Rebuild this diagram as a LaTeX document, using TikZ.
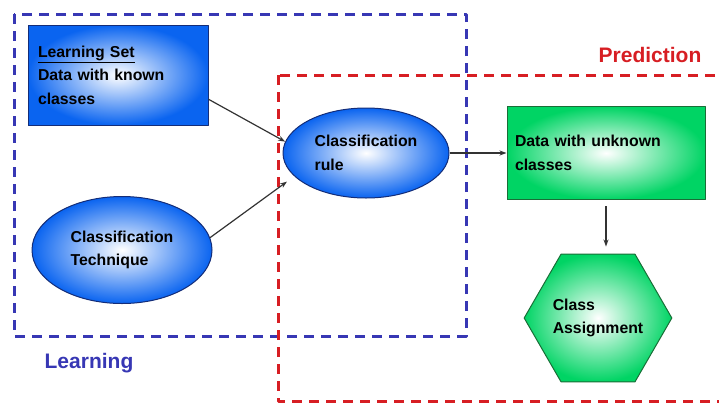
\documentclass[tikz,border=0pt]{standalone}
\usepackage{fontspec}
\setmainfont{Liberation Sans}
\usetikzlibrary{shapes.geometric,arrows.meta}
\definecolor{learnblue}{RGB}{55,55,180}
\definecolor{predred}{RGB}{215,30,35}
\definecolor{fillblue}{RGB}{10,100,240}
\definecolor{edgeblue}{RGB}{20,45,120}
\definecolor{fillgreen}{RGB}{0,212,100}
\definecolor{edgegreen}{RGB}{25,110,55}
\tikzset{
  bluebox/.style={draw=edgeblue, line width=1pt, inner color=white, outer color=fillblue, inner sep=0pt, align=left},
  blueoval/.style={ellipse, draw=edgeblue, line width=1pt, inner color=white, outer color=fillblue, inner sep=0pt, align=left},
  greenbox/.style={draw=edgegreen, line width=1pt, inner color=white, outer color=fillgreen, inner sep=0pt, align=left},
  greenhex/.style={regular polygon, regular polygon sides=6, draw=edgegreen, line width=1pt, inner color=white, outer color=fillgreen, inner sep=0pt, align=left},
  link/.style={-{Stealth[length=7pt, width=5pt]}, line width=1.2pt, draw=black!80},
  frame/.style={line width=3pt, dash pattern=on 10pt off 7pt},
  caption/.style={font=\bfseries\fontsize{21}{25}\selectfont}
}
\begin{document}
\begin{tikzpicture}[x=1pt, y=-1pt, font=\bfseries\fontsize{15.8}{23.5}\selectfont, line join=round]
  \useasboundingbox (0,0) rectangle (719,405);
  \clip (0,0) rectangle (719,405);
  % frames
  \draw[frame, learnblue] (14,14) rectangle (466,336);
  \draw[frame, predred] (278,75) rectangle (740,401);
  \node[caption, text=predred] (pred) at (650,55) {Prediction};
  \node[caption, text=learnblue] (learn) at (89,363) {Learning};
  % shapes
  \node[bluebox, minimum width=180, minimum height=100, text width=160] (set) at (118,75) {\underline{Learning Set}\\Data with known\\classes};
  \node[blueoval, minimum width=180, minimum height=107] (tech) at (122,250) {Classification\\Technique};
  \node[blueoval, minimum width=166, minimum height=90] (rule) at (366,153) {Classification\\rule};
  \node[greenbox, minimum width=198, minimum height=93, text width=182] (data) at (606,153) {Data with unknown\\classes};
  \node[greenhex, minimum size=147] (assign) at (598,318) {Class\\Assignment};
  % connectors
  \draw[link] (set.-15.5) -- (rule.172);
  \draw[link, shorten >=9pt] (tech.8) -- (rule.198);
  \draw[link] (rule) -- (data);
  \draw[link, shorten <=6pt, shorten >=7pt] (data.south) -- (data.south |- assign.north);
\end{tikzpicture}
\end{document}
